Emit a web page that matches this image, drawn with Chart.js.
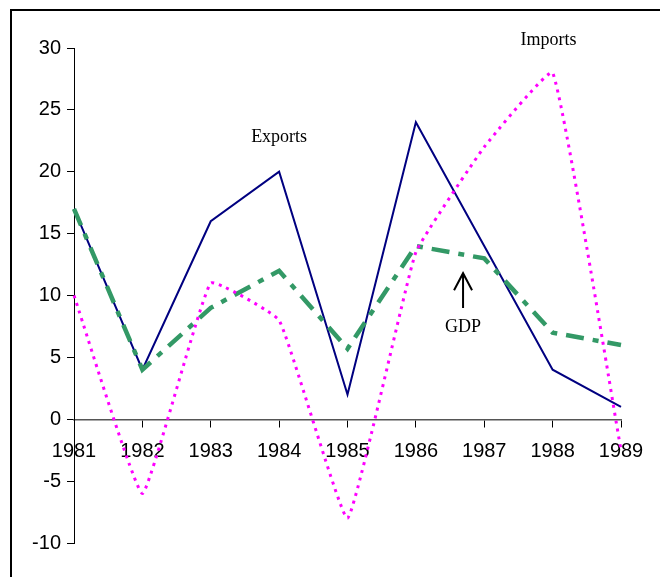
<!DOCTYPE html>
<html>
<head>
<meta charset="utf-8">
<script src="https://cdn.jsdelivr.net/npm/chart.js@4/dist/chart.umd.min.js"></script>
<style>
  html, body { margin: 0; padding: 0; background: #fff; }
  #wrap { position: relative; width: 660px; height: 577px; overflow: hidden; }
  #frame { position: absolute; left: 10px; top: 9px; width: 700px; height: 700px;
           border-left: 2px solid #000; border-top: 2px solid #000; pointer-events: none; }
  canvas { position: absolute; left: 0; top: 0; }
</style>
</head>
<body>
<div id="wrap">
  <canvas id="c" width="660" height="577"></canvas>
  <div id="frame"></div>
</div>
<script>
// ---- data ----
const years   = ["1981","1982","1983","1984","1985","1986","1987","1988","1989"];
const exportsData = [17, 4, 16, 20, 2, 24, 14, 4, 1];
const importsData = [10, -6, 11, 8, -8, 13.5, 22, 28, -2.5];
const gdpData     = [17, 4, 9, 12, 5.7, 14, 13, 7, 6];
const yTicks = [-10, -5, 0, 5, 10, 15, 20, 25, 30];

// text labels placed in data coordinates (x = category index, y = value)
const textLabels = [
  { text: "Exports", x: 3.0,  y: 22.8 },
  { text: "Imports", x: 6.94, y: 30.6 },
  { text: "GDP",     x: 5.69, y: 7.4 }
];
const arrowNote = { x: 5.69, yFrom: 9.0, yTo: 11.8 };

const notesPlugin = {
  id: 'notes',
  afterDatasetsDraw(chart) {
    const ctx = chart.ctx, xs = chart.scales.x, ys = chart.scales.y;
    ctx.save();
    ctx.fillStyle = '#000';
    ctx.font = '18px "Liberation Serif", "Times New Roman", serif';
    ctx.textAlign = 'center';
    ctx.textBaseline = 'middle';
    textLabels.forEach(t => {
      ctx.fillText(t.text, xs.getPixelForValue(t.x), ys.getPixelForValue(t.y));
    });
    const ax = xs.getPixelForValue(arrowNote.x);
    const y1 = ys.getPixelForValue(arrowNote.yFrom);
    const y2 = ys.getPixelForValue(arrowNote.yTo);
    ctx.strokeStyle = '#000';
    ctx.lineWidth = 2;
    ctx.beginPath();
    ctx.moveTo(ax, y1); ctx.lineTo(ax, y2);
    ctx.moveTo(ax - 9, y2 + 17); ctx.lineTo(ax, y2); ctx.lineTo(ax + 9, y2 + 17);
    ctx.stroke();
    ctx.restore();
  }
};

const tickFont = { family: '"Liberation Sans", Arial, sans-serif', size: 20 };

new Chart(document.getElementById('c'), {
  type: 'line',
  data: {
    labels: years,
    datasets: [
      { label: 'Imports', data: importsData, borderColor: '#FF00FF', borderWidth: 3,
        borderDash: [3, 5], tension: 0.1, pointRadius: 0, fill: false, order: 1 },
      { label: 'GDP', data: gdpData, borderColor: '#339966', borderWidth: 4.5,
        borderDash: [18, 9, 6, 9], tension: 0, pointRadius: 0, fill: false, order: 2 },
      { label: 'Exports', data: exportsData, borderColor: '#000080', borderWidth: 2,
        tension: 0, pointRadius: 0, fill: false, order: 3 }
    ]
  },
  options: {
    responsive: false,
    animation: false,
    events: [],
    layout: { padding: { left: 0, top: 48, right: 39, bottom: 34 } },
    plugins: { legend: { display: false }, tooltip: { enabled: false }, title: { display: false } },
    scales: {
      x: {
        type: 'category',
        position: { y: 0 },
        offset: false,
        grid: { drawOnChartArea: false, drawTicks: true, tickLength: 7, color: '#000', lineWidth: 1 },
        border: { display: true, color: '#555', width: 1.5 },
        ticks: { color: '#000', font: tickFont, padding: 13, maxRotation: 0, autoSkip: false }
      },
      y: {
        type: 'linear',
        min: -10, max: 30,
        afterBuildTicks(scale) { scale.ticks = yTicks.map(v => ({ value: v })); },
        afterFit(scale) { scale.width = 74; },
        grid: { drawOnChartArea: false, drawTicks: true, tickLength: 7, color: '#000', lineWidth: 1 },
        border: { display: true, color: '#000', width: 1 },
        ticks: { color: '#000', font: tickFont, padding: 6 }
      }
    }
  },
  plugins: [notesPlugin]
});
</script>
</body>
</html>
